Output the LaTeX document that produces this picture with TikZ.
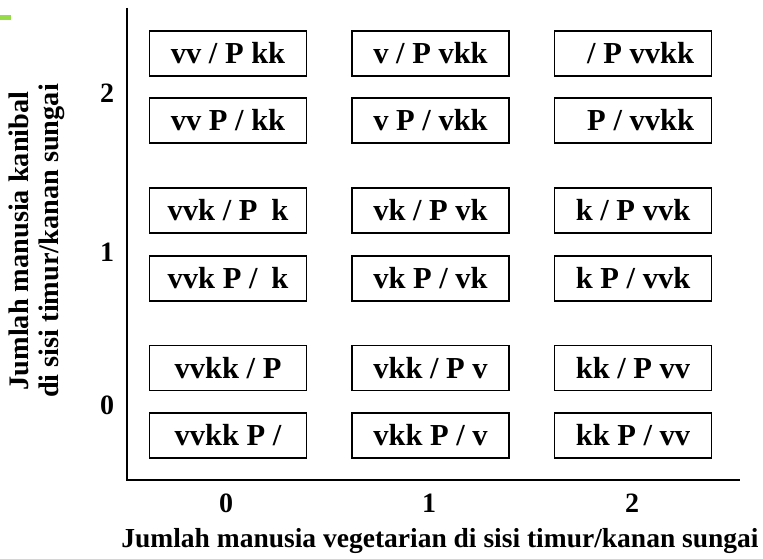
\documentclass[tikz,border=0pt]{standalone}
\usepackage{fontspec}
\setmainfont{Liberation Serif}
\definecolor{markgreen}{RGB}{150,220,70}
\begin{document}
\begin{tikzpicture}[x=1pt,y=-1pt,
  state/.style={draw, line width=1.8pt, minimum width=157pt, minimum height=45pt, inner sep=0pt,
    font=\fontsize{30.5}{34}\selectfont\bfseries},
  ticklabel/.style={font=\fontsize{28}{32}\selectfont\bfseries, inner sep=0pt},
  axistitle/.style={font=\fontsize{27.5}{30}\selectfont\bfseries, inner sep=0pt, align=center},
  ytitle/.style={font=\fontsize{28.3}{30.5}\selectfont\bfseries, inner sep=0pt, align=center},
  axisline/.style={line width=1.8pt}]
\useasboundingbox (0,0) rectangle (763,559);
\fill[markgreen] (0,15) rectangle (11,20);
% axes
\coordinate (ytop) at (127,8);
\coordinate (origin) at (127,480);
\coordinate (xend) at (740,480);
\draw[axisline] (ytop) -- (origin) -- (xend);
% state boxes
\node[state] (a1) at (228,53.5) {vv / P kk};
\node[state] (b1) at (430.5,53.5) {v / P vkk};
\node[state] (c1) at (633,53.5) {\phantom{v}/ P vvkk};
\node[state] (a2) at (228,120.5) {vv P / kk};
\node[state] (b2) at (430.5,120.5) {v P / vkk};
\node[state] (c2) at (633,120.5) {\phantom{v}P / vvkk};
\node[state] (a3) at (228,210.5) {vvk / P\hspace{0.45em}k};
\node[state] (b3) at (430.5,210.5) {vk / P vk};
\node[state] (c3) at (633,210.5) {k / P vvk};
\node[state] (a4) at (228,278.5) {vvk P /\hspace{0.45em}k};
\node[state] (b4) at (430.5,278.5) {vk P / vk};
\node[state] (c4) at (633,278.5) {k P / vvk};
\node[state] (a5) at (228,368) {vvkk / P};
\node[state] (b5) at (430.5,368) {vkk / P v};
\node[state] (c5) at (633,368) {kk / P vv};
\node[state] (a6) at (228,435.5) {vvkk P /};
\node[state] (b6) at (430.5,435.5) {vkk P / v};
\node[state] (c6) at (633,435.5) {kk P / vv};
% tick labels
\node[ticklabel] (y2) at (107,93) {2};
\node[ticklabel] (y1) at (107,252) {1};
\node[ticklabel] (y0) at (107,405) {0};
\node[ticklabel] (x0) at (226,503) {0};
\node[ticklabel] (x1) at (429,503) {1};
\node[ticklabel] (x2) at (632,503) {2};
% titles
\node[axistitle] (xt) at (440,541) {Jumlah manusia vegetarian di sisi timur/kanan sungai};
\node[ytitle, rotate=90] (yt) at (37,241) {Jumlah manusia kanibal\\di sisi timur/kanan sungai};
\end{tikzpicture}
\end{document}
